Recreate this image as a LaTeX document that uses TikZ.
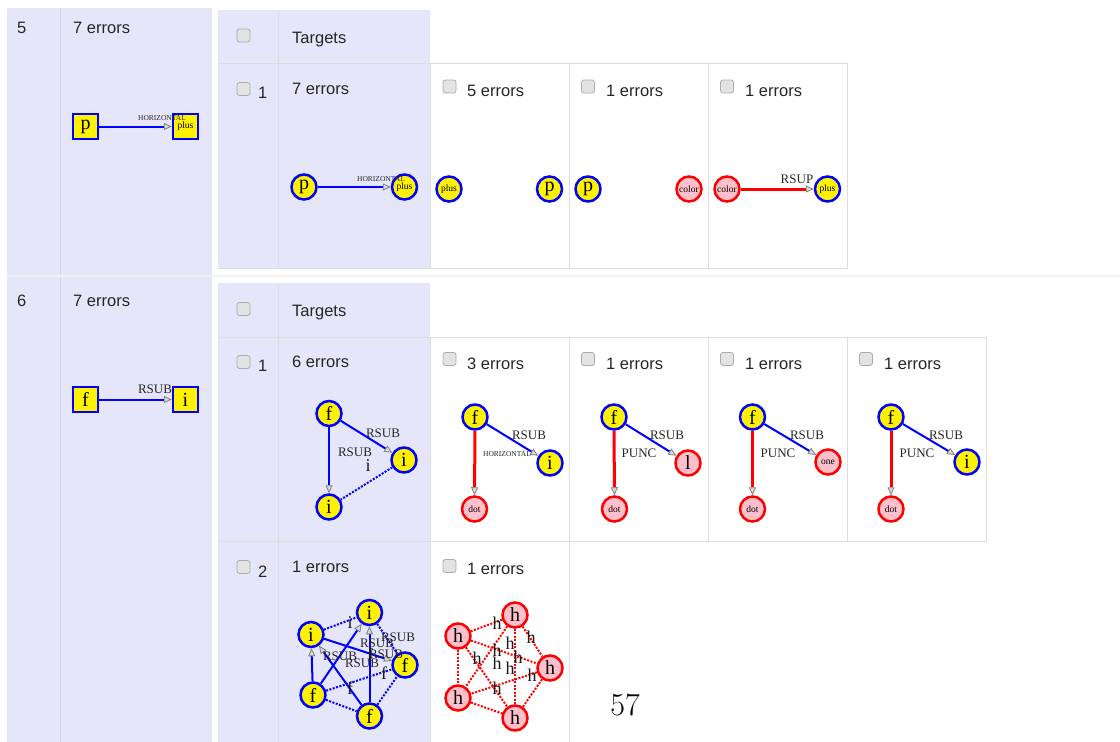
\documentclass[tikz,border=0pt]{standalone}
\usepackage{fontspec}
\newfontfamily\tnr{Liberation Serif}
\newfontfamily\ari{Liberation Sans}
\usetikzlibrary{arrows.meta}
\definecolor{lav}{HTML}{E6E6FA}
\definecolor{bordc}{HTML}{DDDDDD}
\definecolor{divc}{HTML}{D6D6EA}
\definecolor{npink}{HTML}{FFC0CB}
\tikzset{
  tline/.style={draw=bordc,line width=1pt},
  sans/.style={font=\ari\fontsize{16.5}{19}\selectfont,anchor=base west,inner sep=0pt,text=black!85},
  cbox/.style={draw=gray!65,fill=gray!22,rounded corners=2.5pt,minimum size=13pt,inner sep=0pt,line width=0.8pt},
  yc/.style={circle,draw=blue,fill=yellow,line width=2.5pt,minimum size=25pt,inner sep=0pt,font=\tnr\fontsize{20}{20}\selectfont},
  pc/.style={circle,draw=red,fill=npink,line width=2.5pt,minimum size=25pt,inner sep=0pt,font=\tnr\fontsize{20}{20}\selectfont},
  ysq/.style={rectangle,draw=blue,fill=yellow,line width=2.5pt,minimum size=25pt,inner sep=0pt,font=\tnr\fontsize{20}{20}\selectfont},
  sm/.style={font=\tnr\fontsize{9.5}{9.5}\selectfont},
  be/.style={draw=blue,line width=2pt},
  re/.style={draw=red,line width=3pt},
  bd/.style={draw=blue,line width=2pt,dash pattern=on 2pt off 1.5pt},
  rd/.style={draw=red,line width=2pt,dash pattern=on 2pt off 1.5pt},
  arr/.style={-{Triangle[length=8pt,width=7pt,color=gray,fill=gray!30,line width=0.8pt]}},
  elab/.style={font=\tnr\fontsize{13}{13}\selectfont,inner sep=0pt,text=black!85},
  elabs/.style={font=\tnr\fontsize{7.5}{7.5}\selectfont,inner sep=0pt,text=black!85},
  big/.style={font=\tnr\fontsize{18}{18}\selectfont,inner sep=0pt,text=black!90}
}
\begin{document}
\begin{tikzpicture}[x=1pt,y=-1pt]
\useasboundingbox (0,0) rectangle (1120,742);
\fill[white] (0,0) rectangle (1120,742);
% outer rows
\fill[lav] (7,8) rectangle (212,275);
\fill[lav] (7,277) rectangle (212,742);
\draw[divc,line width=1pt] (60,8) -- (60,275);
\draw[divc,line width=1pt] (60,277) -- (60,742);
\draw[gray!10,line width=1.5pt] (7,276) -- (1120,276);
% inner table 5
\fill[lav] (218,10) rectangle (430,268);
\draw[tline] (218,63) -- (847,63);
\draw[tline] (278,10) -- (278,268);
\draw[tline] (218,268) -- (847,268);
\draw[tline] (430,63) rectangle (569,268);
\draw[tline] (569,63) rectangle (708,268);
\draw[tline] (708,63) rectangle (847,268);
% inner table 6
\fill[lav] (218,283) rectangle (430,742);
\draw[tline] (218,337) -- (986,337);
\draw[tline] (218,541) -- (986,541);
\draw[tline] (278,283) -- (278,742);
\draw[tline] (430,337) rectangle (569,541);
\draw[tline] (569,337) rectangle (708,541);
\draw[tline] (708,337) rectangle (847,541);
\draw[tline] (847,337) rectangle (986,541);
\draw[tline] (430,541) -- (430,742);
\draw[tline] (569,541) -- (569,742);
% texts row 5
\node[sans] (t5n) at (17,33) {5};
\node[sans] (t5e) at (73,33) {7 errors};
\node[cbox] (cb5h) at (243.5,35.5) {};
\node[sans] (t5t) at (292,43) {Targets};
\node[cbox] (cb5r) at (243.5,89) {};
\node[sans] (t5one) at (258,98) {1};
\node[sans] (t5e2) at (292,94) {7 errors};
\node[cbox] (cb5c1) at (449.5,86.5) {};
\node[sans] (t5c1) at (467,96) {5 errors};
\node[cbox] (cb5c2) at (588,86.5) {};
\node[sans] (t5c2) at (606,96) {1 errors};
\node[cbox] (cb5c3) at (727,86.5) {};
\node[sans] (t5c3) at (745,96) {1 errors};
% texts row 6
\node[sans] (t6n) at (17,306) {6};
\node[sans] (t6e) at (73,306) {7 errors};
\node[cbox] (cb6h) at (243.5,309) {};
\node[sans] (t6t) at (292,316) {Targets};
\node[cbox] (cb6r) at (243.5,362) {};
\node[sans] (t6one) at (258,371) {1};
\node[sans] (t6e2) at (292,367) {6 errors};
\node[cbox] (cb6c1) at (449.5,359) {};
\node[sans] (t6c1) at (467,369) {3 errors};
\node[cbox] (cb6c2) at (588,359) {};
\node[sans] (t6c2) at (606,369) {1 errors};
\node[cbox] (cb6c3) at (727,359) {};
\node[sans] (t6c3) at (745,369) {1 errors};
\node[cbox] (cb6c4) at (866,359) {};
\node[sans] (t6c4) at (884,369) {1 errors};
\node[cbox] (cb6r2) at (243.5,567) {};
\node[sans] (t6two) at (258,577) {2};
\node[sans] (t6e3) at (292,572) {1 errors};
\node[cbox] (cb6d1) at (449.5,566) {};
\node[sans] (t6d1) at (467,574) {1 errors};
% graph row5 left
\node[ysq] (p5a) at (85.5,126.5) {p};
\node[ysq,sm] (plus5a) at (185.5,126.5) {plus};
\draw[be,arr] (p5a) -- (plus5a);
\node[elabs] (l5a) at (162,118) {HORIZONTAL};
% graph row5 inner
\node[yc] (p5b) at (304,187) {p};
\node[yc,sm] (plus5b) at (404.5,187) {plus};
\draw[be,arr] (p5b) -- (plus5b);
\node[elabs] (l5b) at (381,179) {HORIZONTAL};
% row5 cells
\node[yc,sm] (plus5c) at (449,189) {plus};
\node[yc] (p5c) at (549.5,189) {p};
\node[yc] (p5d) at (588,189) {p};
\node[pc,sm] (col5d) at (689,189) {color};
\node[pc,sm] (col5e) at (727,189) {color};
\node[yc,sm] (plus5e) at (827.5,189) {plus};
\draw[re,arr] (col5e) -- (plus5e);
\node[elab] (l5e) at (797,179) {RSUP};
% row6 left
\node[ysq] (f6a) at (85.5,399.5) {f};
\node[ysq] (i6a) at (185.5,399.5) {i};
\draw[be,arr] (f6a) -- (i6a);
\node[elab] (l6a) at (155,389) {RSUB};
% row6 target graph 1
\node[yc] (f6b) at (329,413.5) {f};
\node[yc] (ir6b) at (404,460) {i};
\node[yc] (ib6b) at (329,507) {i};
\draw[be,arr] (f6b) -- (ir6b);
\draw[be,arr] (f6b) -- (ib6b);
\draw[bd] (ir6b) -- (ib6b);
\node[elab] (l6b1) at (383,433) {RSUB};
\node[elab] (l6b2) at (355,452) {RSUB};
\node[big] (l6b3) at (368,466) {i};
% row6 cells
\node[yc] (f6c) at (475,417) {f};
\node[yc] (i6c) at (550,463) {i};
\node[pc,sm] (d6c) at (474.5,509) {dot};
\draw[re,arr] (f6c) -- (d6c);
\draw[be,arr] (f6c) -- (i6c);
\node[elab] (l6c1) at (529,435) {RSUB};
\node[elabs] (l6c2) at (507,454) {HORIZONTAL};
\node[yc] (f6d) at (614,417) {f};
\node[pc] (i6d) at (688,463) {l};
\node[pc,sm] (d6d) at (614.5,509) {dot};
\draw[re,arr] (f6d) -- (d6d);
\draw[be,arr] (f6d) -- (i6d);
\node[elab] (l6d1) at (667,435) {RSUB};
\node[elab] (l6d2) at (639,453) {PUNC};
\node[yc] (f6e) at (752.5,417) {f};
\node[pc,sm] (i6e) at (828,462) {one};
\node[pc,sm] (d6e) at (752.5,509) {dot};
\draw[re,arr] (f6e) -- (d6e);
\draw[be,arr] (f6e) -- (i6e);
\node[elab] (l6e1) at (807,435) {RSUB};
\node[elab] (l6e2) at (778,453) {PUNC};
\node[yc] (f6f) at (891,417) {f};
\node[yc] (i6f) at (967,462) {i};
\node[pc,sm] (d6f) at (891,509) {dot};
\draw[re,arr] (f6f) -- (d6f);
\draw[be,arr] (f6f) -- (i6f);
\node[elab] (l6f1) at (946,435) {RSUB};
\node[elab] (l6f2) at (917,453) {PUNC};
% row6 target graph 2 (K5)
\node[yc] (kT) at (369.5,612.5) {i};
\node[yc] (kL) at (311,634.5) {i};
\node[yc] (kR) at (405,665) {f};
\node[yc] (kBL) at (313,695) {f};
\node[yc] (kB) at (369.5,716) {f};
\draw[bd] (kL) -- (kT);
\draw[bd] (kT) -- (kR);
\draw[bd] (kBL) -- (kR);
\draw[bd] (kB) -- (kR);
\draw[bd] (kBL) -- (kB);
\draw[be,arr] (kBL) -- (kL);
\draw[be,arr] (kBL) -- (kT);
\draw[be,arr] (kB) -- (kT);
\draw[be,arr] (kB) -- (kL);
\draw[be,arr] (kL) -- (kR);
\node[big] (kl1) at (350,623) {i};
\node[elab] (kl2) at (398,637) {RSUB};
\node[elab] (kl3) at (377,643) {RSUB};
\node[elab] (kl4) at (340,656) {RSUB};
\node[elab] (kl5) at (386,654) {RSUB};
\node[elab] (kl6) at (362,663) {RSUB};
\node[big] (kl7) at (370,655) {f};
\node[big] (kl8) at (384,673) {f};
\node[big] (kl9) at (350,688) {f};
% h graph
\node[pc] (hT) at (515,615) {h};
\node[pc] (hL) at (458,636) {h};
\node[pc] (hR) at (550,668) {h};
\node[pc] (hBL) at (458,698) {h};
\node[pc] (hB) at (515,718) {h};
\draw[rd] (hT) -- (hL);
\draw[rd] (hT) -- (hR);
\draw[rd] (hT) -- (hBL);
\draw[rd] (hT) -- (hB);
\draw[rd] (hL) -- (hR);
\draw[rd] (hL) -- (hBL);
\draw[rd] (hL) -- (hB);
\draw[rd] (hR) -- (hBL);
\draw[rd] (hR) -- (hB);
\draw[rd] (hBL) -- (hB);
\node[big] (hl1) at (497,623) {h};
\node[big] (hl2) at (531,637) {h};
\node[big] (hl3) at (510,643) {h};
\node[big] (hl4) at (477,658) {h};
\node[big] (hl5) at (497,650) {h};
\node[big] (hl6) at (518,657) {h};
\node[big] (hl7) at (497,663) {h};
\node[big] (hl8) at (510,668) {h};
\node[big] (hl9) at (532,675) {h};
\node[big] (hl10) at (497,688) {h};
% page number
\node[font=\fontsize{32}{32}\selectfont,inner sep=0pt] (pg) at (625,705) {57};
\end{tikzpicture}
\end{document}
